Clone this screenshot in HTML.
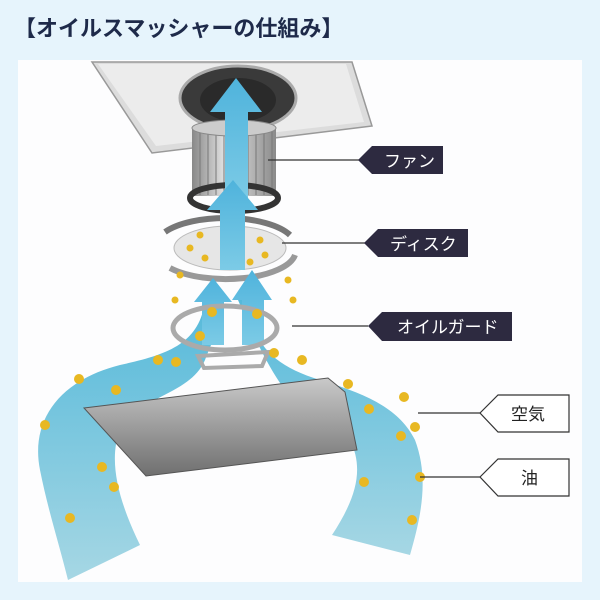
<!DOCTYPE html>
<html><head><meta charset="utf-8"><style>
html,body{margin:0;padding:0;width:600px;height:600px;overflow:hidden;background:#e6f4fc;}
</style></head><body>
<svg width="600" height="600" viewBox="0 0 600 600" xmlns="http://www.w3.org/2000/svg" style="position:absolute;left:0;top:0">
<defs>
<linearGradient id="flow" x1="0" y1="0" x2="0" y2="1"><stop offset="0" stop-color="#55b9da"/><stop offset="1" stop-color="#a6d7e4"/></linearGradient>
<linearGradient id="plate" x1="0" y1="0" x2="0" y2="1"><stop offset="0" stop-color="#c9c9c9"/><stop offset="1" stop-color="#6f6f6f"/></linearGradient>
<linearGradient id="fan" x1="0" y1="0" x2="1" y2="0"><stop offset="0" stop-color="#888"/><stop offset="0.4" stop-color="#e5e5e5"/><stop offset="1" stop-color="#8a8a8a"/></linearGradient>
<linearGradient id="arrow" x1="0" y1="0" x2="0" y2="1"><stop offset="0" stop-color="#4fb3dc"/><stop offset="1" stop-color="#7ccbe6"/></linearGradient>
</defs>
<rect x="18" y="60" width="564" height="522" fill="#fdfdfe"/>
<text x="14" y="36" font-family="'Liberation Sans','Noto Sans CJK JP',sans-serif" font-size="22" font-weight="bold" fill="#1e2a4a">【オイルスマッシャーの仕組み】</text>

<!-- ceiling panel -->
<polygon points="92,62 352,62 372,126 152,153" fill="#dcdcdc" stroke="#999" stroke-width="1.5"/>
<polygon points="98,64 346,64 364,122 156,146" fill="#ececec"/>
<ellipse cx="238" cy="98" rx="58" ry="32" fill="#3a3a3a" stroke="#aaa" stroke-width="3"/>
<ellipse cx="238" cy="100" rx="38" ry="22" fill="#2a2a2a"/>

<!-- flows -->
<path d="M205,300 C200,345 165,355 120,365 C60,380 30,420 40,470 C48,510 58,540 68,580 L140,545 C118,500 108,460 120,430 C140,395 190,395 205,360 C215,335 222,320 220,300 Z" fill="url(#flow)"/>
<path d="M250,300 C250,340 270,365 320,380 C370,395 400,410 415,440 C430,480 420,520 410,555 L332,535 C355,500 365,470 350,440 C330,415 300,410 285,390 C270,370 255,340 238,300 Z" fill="url(#flow)"/>

<!-- fan -->
<rect x="192" y="128" width="84" height="68" fill="url(#fan)"/>
<g stroke="#777" stroke-width="1">
<line x1="200" y1="130" x2="200" y2="195"/><line x1="208" y1="130" x2="208" y2="195"/><line x1="216" y1="130" x2="216" y2="195"/><line x1="224" y1="130" x2="224" y2="195"/><line x1="232" y1="130" x2="232" y2="195"/><line x1="240" y1="130" x2="240" y2="195"/><line x1="248" y1="130" x2="248" y2="195"/><line x1="256" y1="130" x2="256" y2="195"/><line x1="264" y1="130" x2="264" y2="195"/><line x1="272" y1="130" x2="272" y2="195"/>
</g>
<ellipse cx="234" cy="128" rx="42" ry="8" fill="#ccc" stroke="#888"/>
<ellipse cx="234" cy="198" rx="44" ry="13" fill="none" stroke="#333" stroke-width="6"/>

<!-- disk -->
<path d="M165,232 A70,28 0 0 1 290,235" fill="none" stroke="#777" stroke-width="6"/>
<path d="M295,255 A70,28 0 0 1 170,268" fill="none" stroke="#999" stroke-width="6"/>
<ellipse cx="230" cy="248" rx="56" ry="22" fill="#e6e6e6" stroke="#bbb"/>
<ellipse cx="232" cy="247" rx="12" ry="7" fill="#aaa"/>

<!-- arrows -->
<polygon points="225,200 225,112 210,112 236,78 262,112 248,112 248,200" fill="url(#arrow)"/>
<polygon points="220,270 220,210 207,210 233,180 258,210 245,210 245,270" fill="url(#arrow)"/>
<polygon points="202,345 202,302 194,302 213,278 232,302 224,302 224,345" fill="url(#arrow)"/>
<polygon points="242,345 242,300 232,300 252,270 272,300 264,300 264,345" fill="url(#arrow)"/>

<!-- oil guard -->
<ellipse cx="225" cy="328" rx="52" ry="22" fill="none" stroke="#aaa" stroke-width="5"/>
<polygon points="198,356 268,352 262,366 204,368" fill="none" stroke="#aaa" stroke-width="4"/>

<!-- hood plate -->
<polygon points="84,408 328,378 345,392 357,450 146,476" fill="url(#plate)" stroke="#555" stroke-width="1"/>

<!-- dots -->
<g fill="#e8b822">
<circle cx="200" cy="235" r="3.5"/><circle cx="190" cy="248" r="3.5"/><circle cx="205" cy="258" r="3.5"/><circle cx="260" cy="240" r="3.5"/><circle cx="265" cy="255" r="3.5"/><circle cx="250" cy="262" r="3.5"/><circle cx="180" cy="275" r="3.5"/><circle cx="288" cy="280" r="3.5"/><circle cx="175" cy="300" r="3.5"/><circle cx="293" cy="300" r="3.5"/>
<circle cx="212" cy="312" r="5"/><circle cx="257" cy="314" r="5"/><circle cx="200" cy="336" r="5"/><circle cx="158" cy="360" r="5"/><circle cx="176" cy="362" r="5"/><circle cx="274" cy="353" r="5"/><circle cx="302" cy="360" r="5"/>
<circle cx="79" cy="379" r="5"/><circle cx="116" cy="390" r="5"/><circle cx="45" cy="425" r="5"/><circle cx="102" cy="467" r="5"/><circle cx="114" cy="487" r="5"/><circle cx="70" cy="518" r="5"/>
<circle cx="348" cy="384" r="5"/><circle cx="369" cy="409" r="5"/><circle cx="404" cy="397" r="5"/><circle cx="415" cy="427" r="5"/><circle cx="401" cy="436" r="5"/><circle cx="420" cy="477" r="5"/><circle cx="364" cy="482" r="5"/><circle cx="412" cy="520" r="5"/>
</g>

<!-- labels -->
<g stroke="#333" stroke-width="1.2">
<line x1="268" y1="160" x2="360" y2="160"/>
<line x1="282" y1="243" x2="366" y2="243"/>
<line x1="292" y1="326" x2="368" y2="326"/>
<line x1="418" y1="413" x2="480" y2="413"/>
<line x1="420" y1="477" x2="480" y2="477"/>
</g>
<polygon points="358,160 372,146 443,146 443,174 372,174" fill="#2d2a40"/>
<text x="384" y="167" font-family="'Liberation Sans','Noto Sans CJK JP',sans-serif" font-size="17" fill="#fff">ファン</text>
<polygon points="364,243 378,229 468,229 468,257 378,257" fill="#2d2a40"/>
<text x="390" y="250" font-family="'Liberation Sans','Noto Sans CJK JP',sans-serif" font-size="17" fill="#fff">ディスク</text>
<polygon points="368,326 382,312 512,312 512,341 382,341" fill="#2d2a40"/>
<text x="397" y="333" font-family="'Liberation Sans','Noto Sans CJK JP',sans-serif" font-size="17" fill="#fff">オイルガード</text>
<polygon points="480,413 498,395 569,395 569,432 498,432" fill="#fff" stroke="#333" stroke-width="1.2"/>
<text x="511" y="420" font-family="'Liberation Sans','Noto Sans CJK JP',sans-serif" font-size="17" fill="#222">空気</text>
<polygon points="480,477 498,459 569,459 569,496 498,496" fill="#fff" stroke="#333" stroke-width="1.2"/>
<text x="521" y="484" font-family="'Liberation Sans','Noto Sans CJK JP',sans-serif" font-size="17" fill="#222">油</text>
</svg>
</body></html>
